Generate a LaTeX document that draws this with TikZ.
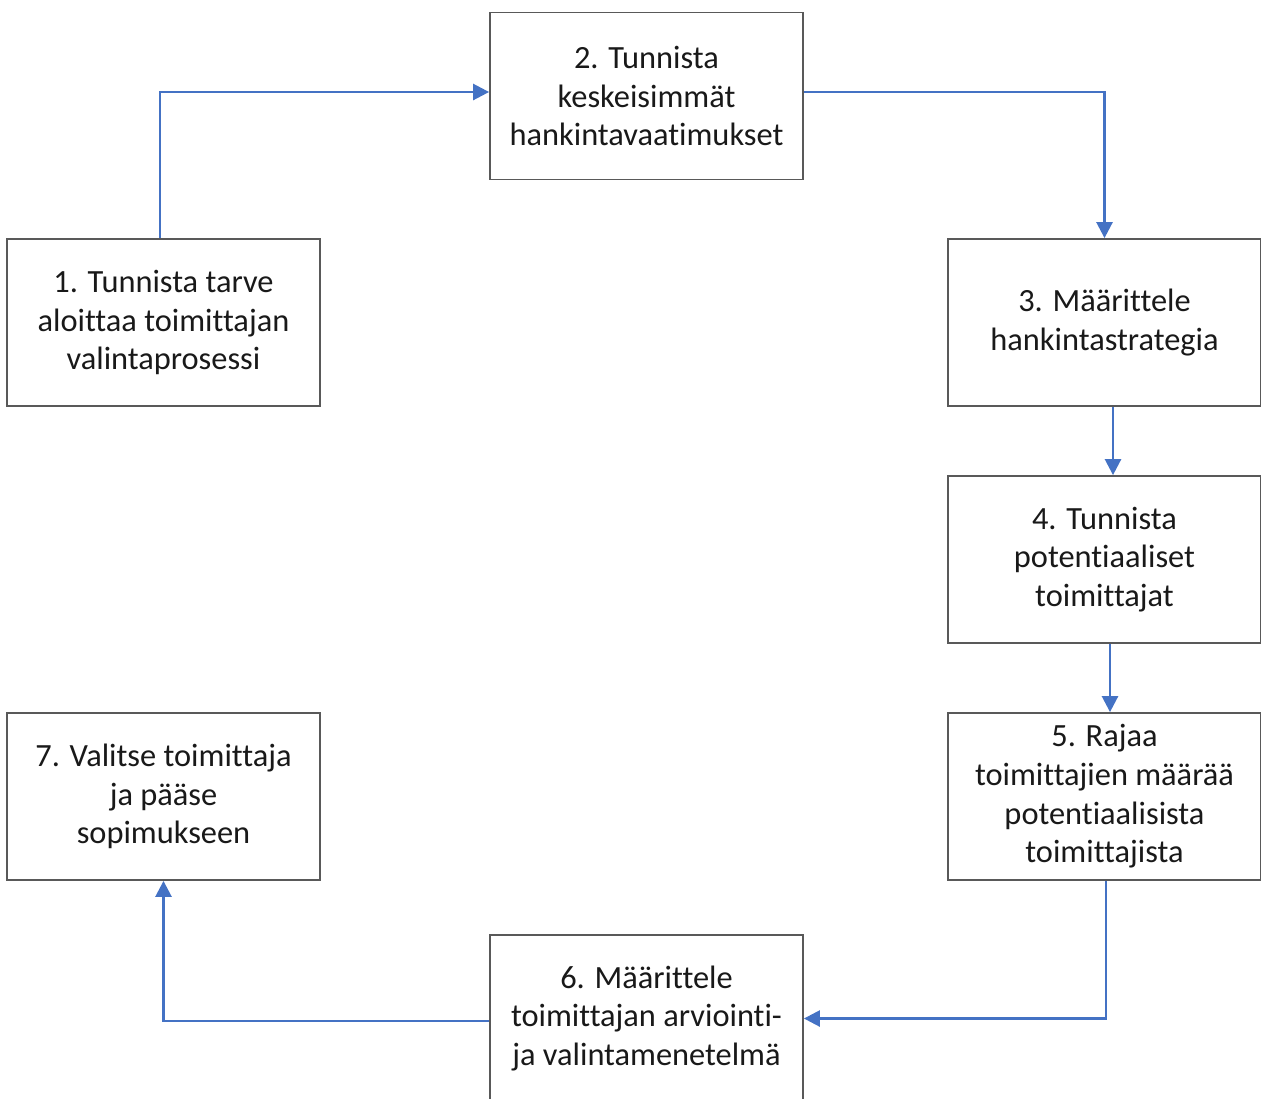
\documentclass[tikz,border=0pt]{standalone}
\usepackage{fontspec}
\setmainfont{Carlito}[Ligatures={NoCommon}]
\usepackage{tikz}
\usetikzlibrary{arrows.meta,positioning}
\definecolor{flowblue}{HTML}{4472C4}
\definecolor{boxgray}{HTML}{595959}

\begin{document}
\begin{tikzpicture}[x=0.5pt, y=-0.5pt,
    stepbox/.style={draw=boxgray, line width=0.9pt, fill=white, minimum width=156.5pt, minimum height=83.5pt,
        align=center, inner sep=0pt, font=\fontsize{16.2}{19.3}\selectfont, text=black!90,
        execute at begin node={\rule{0pt}{14pt}}},
    flow/.style={draw=flowblue, line width=1.3pt, -{Triangle[length=8pt, width=8pt]}}]
    \useasboundingbox (0,0) rectangle (1261,1098);

    % Process steps
        \node[stepbox] (s1) at (163.5,322.5) {1. Tunnista tarve\\aloittaa toimittajan\\valintaprosessi};
        \node[stepbox] (s2) at (646.5,96) {2. Tunnista\\keskeisimmät\\hankintavaatimukset};
        \node[stepbox] (s3) at (1104.5,322.5) {3. Määrittele\\hankintastrategia};
        \node[stepbox] (s4) at (1104.5,559.5) {4. Tunnista\\potentiaaliset\\toimittajat};
        \node[stepbox] (s5) at (1104.5,796.5) {5. Rajaa\\toimittajien määrää\\potentiaalisista\\toimittajista};
        \node[stepbox] (s6) at (646.5,1018.5) {6. Määrittele\\toimittajan arviointi-\\ja valintamenetelmä};
        \node[stepbox] (s7) at (163.5,796.5) {7. Valitse toimittaja\\ja pääse\\sopimukseen};

        % Connectors between steps
        \draw[flow] ([xshift=-1.75pt]s1.north) |- ([yshift=2pt]s2.west);
        \draw[flow] ([yshift=2pt]s2.east) -| (s3.north);
        \draw[flow] ([xshift=4.25pt]s3.south) -- ([xshift=4.25pt]s4.north);
        \draw[flow] ([xshift=2.75pt]s4.south) -- ([xshift=2.75pt]s5.north);
        \draw[flow] ([xshift=0.75pt]s5.south) |- (s6.east);
        \draw[flow] ([yshift=-1.25pt]s6.west) -| (s7.south);
\end{tikzpicture}
\end{document}
